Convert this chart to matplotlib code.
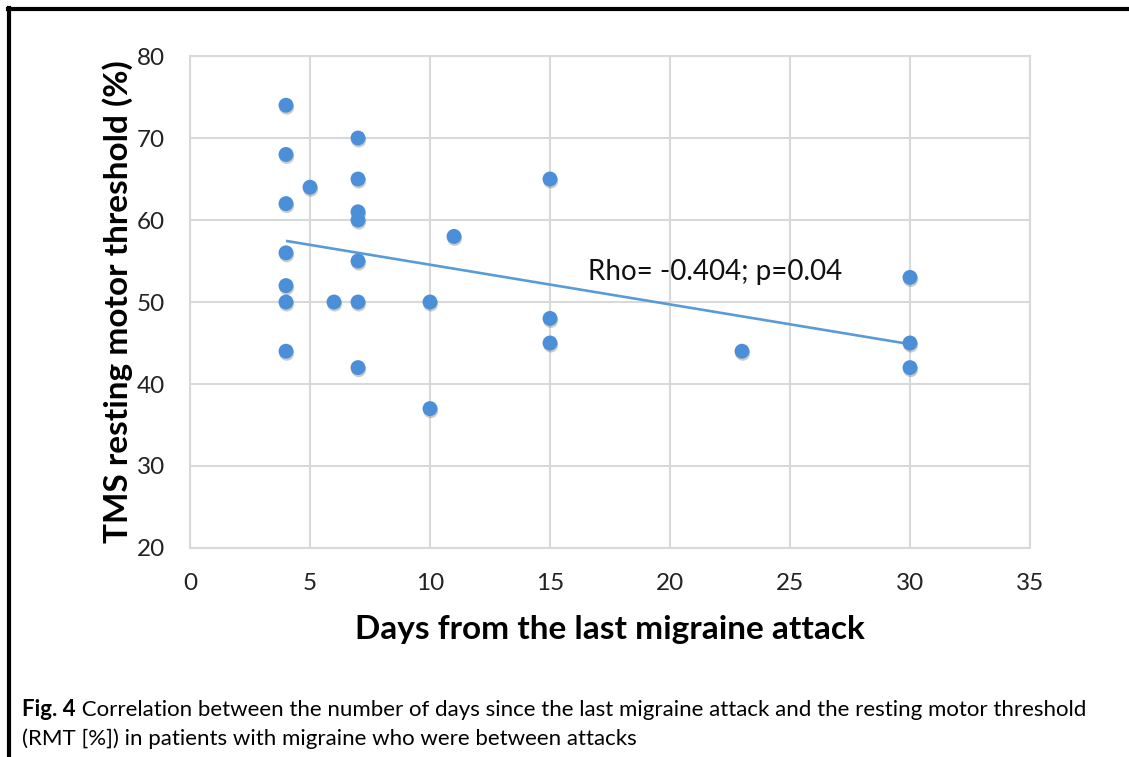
"""Scatter of resting motor threshold against days since the last migraine attack."""

import numpy as np
import matplotlib
matplotlib.use('Agg')
import matplotlib.pyplot as plt
from matplotlib.lines import Line2D
import matplotlib.patheffects as pe

plt.rcParams['font.family'] = ['Lato', 'DejaVu Sans']

POINT_COLOR = '#4A8FD8'
LINE_COLOR = '#5B9BD5'
GRID_COLOR = '#D9D9D9'

# days since last attack and RMT (%) for each patient
days = [4, 4, 4, 4, 4, 4, 4,
        5, 6,
        7, 7, 7, 7, 7, 7, 7,
        10, 10, 11,
        15, 15, 15,
        23,
        30, 30, 30]
rmt = [74, 68, 62, 56, 52, 50, 44,
       64, 50,
       70, 65, 61, 60, 55, 50, 42,
       50, 37, 58,
       65, 48, 45,
       44,
       53, 45, 42]

x_ticks = [0, 5, 10, 15, 20, 25, 30, 35]
y_ticks = [20, 30, 40, 50, 60, 70, 80]
stat_text = 'Rho= -0.404; p=0.04'


def main():
    fig = plt.figure(figsize=(11.29, 7.57), dpi=100, facecolor='white')
    ax = fig.add_axes([0.1683, 0.2761, 0.7440, 0.6499])

    ax.set_xlim(0, 35)
    ax.set_ylim(20, 80)
    ax.set_xticks(x_ticks)
    ax.set_yticks(y_ticks)
    ax.grid(True, color=GRID_COLOR, linewidth=1.5)
    ax.set_axisbelow(True)
    for spine in ax.spines.values():
        spine.set_color(GRID_COLOR)
        spine.set_linewidth(1.5)
    ax.tick_params(length=0, labelsize=17.5, colors='#222222')
    ax.tick_params(axis='y', pad=18)
    ax.tick_params(axis='x', pad=18)

    # linear trend line over the observed range
    slope, intercept = np.polyfit(days, rmt, 1)
    xs = np.array([min(days), max(days)])
    ax.plot(xs, slope * xs + intercept, color=LINE_COLOR, linewidth=1.9,
            zorder=2, solid_capstyle='butt')

    ax.scatter(days, rmt, s=115, color=POINT_COLOR, zorder=3, linewidths=0,
               path_effects=[pe.SimplePatchShadow(offset=(0.5, -1.5),
                                                  shadow_rgbFace='#555555',
                                                  alpha=0.3),
                             pe.Normal()])

    ax.text(16.6, 53.7, stat_text, fontsize=20, va='center', ha='left',
            color='#111111')

    ax.set_xlabel('Days from the last migraine attack', fontsize=24,
                  fontweight='bold', labelpad=15)
    ax.set_ylabel('TMS resting motor threshold (%)', fontsize=24,
                  fontweight='bold', labelpad=3)

    # caption
    fig_lbl = fig.text(22 / 1129, 1 - 716 / 757, 'Fig. 4', fontsize=16,
                       fontweight='bold', ha='left', va='baseline')
    ax.annotate(' Correlation between the number of days since the last '
                'migraine attack and the resting motor threshold',
                xy=(1, 0), xycoords=fig_lbl, fontsize=16,
                ha='left', va='bottom', annotation_clip=False)
    fig.text(22 / 1129, 1 - 745 / 757,
             '(RMT [%]) in patients with migraine who were between attacks',
             fontsize=16, ha='left', va='baseline')

    # frame around the figure panel
    fig.add_artist(Line2D([8 / 1129, 1], [1 - 9 / 757, 1 - 9 / 757],
                          color='black', linewidth=3, transform=fig.transFigure))
    fig.add_artist(Line2D([9 / 1129, 9 / 1129], [0, 1 - 8 / 757],
                          color='black', linewidth=3, transform=fig.transFigure))

    fig.savefig('out.png', dpi=100, facecolor='white')
    plt.close(fig)


if __name__ == "__main__":
    main()
